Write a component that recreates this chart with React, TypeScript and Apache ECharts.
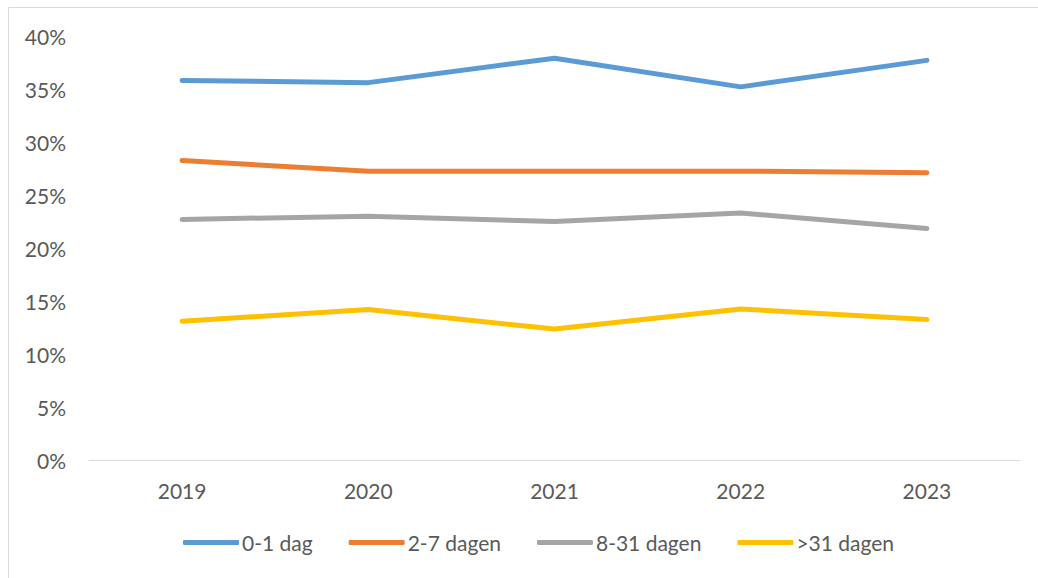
import React, { useEffect, useRef } from "react";
import * as echarts from "echarts";

const years = ["2019", "2020", "2021", "2022", "2023"];
const seriesNames = ["0-1 dag", "2-7 dagen", "8-31 dagen", ">31 dagen"];
const dag01 = [35.8, 35.6, 37.9, 35.2, 37.7];
const dagen27 = [28.25, 27.25, 27.25, 27.25, 27.1];
const dagen831 = [22.7, 23.0, 22.5, 23.3, 21.85];
const dagen31plus = [13.1, 14.2, 12.35, 14.25, 13.25];
const colors = ["#5B9BD5", "#ED7D31", "#A5A5A5", "#FFC000"];
const yTicks = { min: 0, max: 40, interval: 5 };

export default function App() {
  const ref = useRef<HTMLDivElement>(null);
  useEffect(() => {
    if (!ref.current) return;
    const chart = echarts.init(ref.current, undefined, { renderer: "svg" });
    const font = "Lato, 'Open Sans', sans-serif";
    const all = [dag01, dagen27, dagen831, dagen31plus];
    chart.setOption({
      animation: false,
      color: colors,
      textStyle: { fontFamily: font },
      graphic: [
        {
          type: "rect",
          shape: { x: 8.5, y: 7.5, width: 1200, height: 800 },
          style: { fill: "none", stroke: "#d9d9d9", lineWidth: 1 },
          silent: true,
        },
      ],
      grid: { left: 89, right: 18, top: 36, bottom: 118, containLabel: false },
      legend: {
        data: seriesNames,
        bottom: 20,
        left: 178,
        icon: "roundRect",
        itemWidth: 56,
        itemHeight: 5,
        itemGap: 36,
        textStyle: { color: "#595959", fontSize: 21, fontFamily: font, padding: [0, 0, 0, -2] },
      },
      xAxis: {
        type: "category",
        data: years,
        boundaryGap: true,
        axisLine: { lineStyle: { color: "#d9d9d9", width: 1 } },
        axisTick: { show: false },
        axisLabel: { color: "#595959", fontSize: 21, margin: 20, fontFamily: font },
      },
      yAxis: {
        type: "value",
        min: yTicks.min,
        max: yTicks.max,
        interval: yTicks.interval,
        splitLine: { show: false },
        axisLine: { show: false },
        axisTick: { show: false },
        axisLabel: {
          color: "#595959",
          fontSize: 21,
          margin: 23,
          formatter: "{value}%",
          fontFamily: font,
        },
      },
      series: seriesNames.map((name, i) => ({
        name,
        type: "line",
        data: all[i],
        symbol: "none",
        lineStyle: { width: 5, cap: "round", join: "round", color: colors[i] },
        itemStyle: { color: colors[i] },
      })),
    });
    return () => chart.dispose();
  }, []);
  return (
    <div
      ref={ref}
      style={{ position: "fixed", left: 0, top: 0, width: 1038, height: 578, background: "#fff" }}
    />
  );
}
